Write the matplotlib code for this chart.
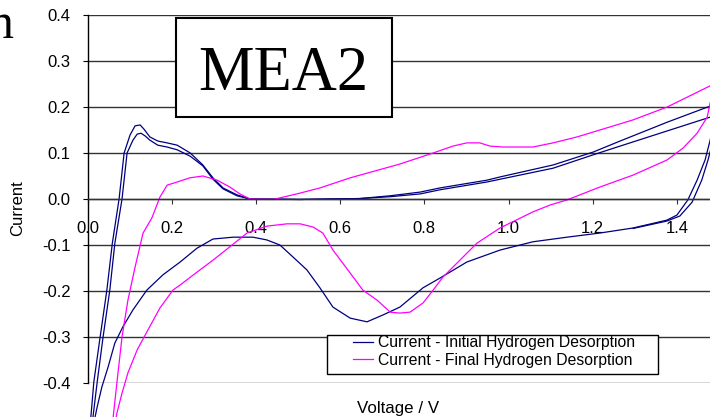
import matplotlib
matplotlib.use("Agg")
import matplotlib.pyplot as plt
from matplotlib.patches import Rectangle

# ---------------- data ----------------
# Initial hydrogen desorption, cycle A (anodic sweep then cathodic sweep)
init_a_anodic_v = [0.001, 0.008, 0.015, 0.030, 0.046, 0.059, 0.075, 0.087, 0.101, 0.113, 0.125,
                   0.134, 0.148, 0.167, 0.189, 0.213, 0.244, 0.274, 0.298, 0.322, 0.355, 0.386,
                   0.505, 0.647, 0.719, 0.790, 0.837, 0.949, 0.980, 1.106, 1.201, 1.265, 1.377,
                   1.479, 1.498]
init_a_anodic_i = [-0.524, -0.474, -0.398, -0.300, -0.198, -0.096, 0.000, 0.100, 0.139, 0.159, 0.161,
                   0.152, 0.135, 0.126, 0.122, 0.117, 0.100, 0.074, 0.046, 0.024, 0.009, 0.000,
                   -0.001, 0.001, 0.007, 0.015, 0.024, 0.041, 0.048, 0.074, 0.102, 0.126, 0.167,
                   0.202, 0.209]
init_a_cathodic_v = [1.498, 1.488, 1.479, 1.467, 1.448, 1.426, 1.400, 1.376, 1.296, 1.217, 1.139,
                     1.058, 0.980, 0.901, 0.837, 0.797, 0.742, 0.702, 0.664, 0.624, 0.583, 0.552,
                     0.521, 0.488, 0.457, 0.426, 0.393, 0.346, 0.298, 0.260, 0.220, 0.179, 0.141,
                     0.108, 0.084, 0.065, 0.049, 0.034, 0.023, 0.018, 0.013]
init_a_cathodic_i = [0.209, 0.167, 0.128, 0.085, 0.041, -0.002, -0.035, -0.046, -0.063, -0.074, -0.083,
                     -0.093, -0.111, -0.137, -0.172, -0.193, -0.235, -0.252, -0.267, -0.259, -0.235, -0.193,
                     -0.154, -0.126, -0.100, -0.089, -0.083, -0.083, -0.087, -0.107, -0.137, -0.165, -0.198,
                     -0.241, -0.278, -0.313, -0.365, -0.409, -0.452, -0.474, -0.524]

# Initial hydrogen desorption, cycle B
init_b_anodic_v = [0.008, 0.013, 0.023, 0.037, 0.053, 0.065, 0.082, 0.094, 0.108, 0.118, 0.127,
                   0.137, 0.148, 0.167, 0.189, 0.213, 0.244, 0.274, 0.298, 0.322, 0.355, 0.386,
                   0.505, 0.647, 0.719, 0.790, 0.837, 0.949, 0.980, 1.106, 1.201, 1.265, 1.377,
                   1.479, 1.498]
init_b_anodic_i = [-0.524, -0.474, -0.398, -0.300, -0.198, -0.096, 0.000, 0.100, 0.128, 0.141, 0.143,
                   0.137, 0.128, 0.117, 0.113, 0.107, 0.093, 0.072, 0.043, 0.022, 0.007, 0.000,
                   -0.001, 0.001, 0.005, 0.011, 0.020, 0.037, 0.043, 0.067, 0.096, 0.115, 0.148,
                   0.178, 0.185]
init_b_cathodic_v = [1.498, 1.493, 1.486, 1.474, 1.459, 1.436, 1.407, 1.376, 1.296]
init_b_cathodic_i = [0.185, 0.157, 0.128, 0.085, 0.041, -0.007, -0.037, -0.048, -0.064]

# Final hydrogen desorption
final_anodic_v = [0.056, 0.061, 0.070, 0.082, 0.096, 0.113, 0.132, 0.153, 0.172, 0.189, 0.213,
                  0.243, 0.274, 0.308, 0.338, 0.362, 0.386, 0.441, 0.497, 0.552, 0.624, 0.742,
                  0.821, 0.868, 0.901, 0.932, 0.956, 0.987, 1.058, 1.106, 1.163, 1.217, 1.296,
                  1.377, 1.479, 1.498]
final_anodic_i = [-0.524, -0.474, -0.398, -0.300, -0.220, -0.148, -0.074, -0.041, 0.004, 0.030, 0.037,
                  0.046, 0.050, 0.041, 0.026, 0.011, 0.000, -0.001, 0.011, 0.024, 0.046, 0.076,
                  0.100, 0.115, 0.122, 0.122, 0.115, 0.113, 0.113, 0.122, 0.135, 0.150, 0.172,
                  0.200, 0.246, 0.252]
final_cathodic_v = [1.498, 1.488, 1.479, 1.472, 1.448, 1.415, 1.377, 1.296, 1.217, 1.139, 1.099,
                    1.058, 0.980, 0.925, 0.878, 0.844, 0.821, 0.797, 0.766, 0.742, 0.719, 0.688,
                    0.654, 0.624, 0.583, 0.559, 0.536, 0.505, 0.474, 0.426, 0.379, 0.338, 0.298,
                    0.260, 0.220, 0.203, 0.172, 0.141, 0.118, 0.096, 0.082, 0.070, 0.068, 0.063]
final_cathodic_i = [0.252, 0.233, 0.209, 0.178, 0.143, 0.111, 0.085, 0.052, 0.026, -0.002, -0.013,
                    -0.028, -0.063, -0.096, -0.139, -0.170, -0.198, -0.226, -0.246, -0.248, -0.246, -0.220,
                    -0.198, -0.161, -0.111, -0.074, -0.061, -0.054, -0.054, -0.059, -0.074, -0.104, -0.133,
                    -0.159, -0.187, -0.198, -0.237, -0.289, -0.328, -0.378, -0.422, -0.465, -0.474, -0.524]

x_ticks = [0.0, 0.2, 0.4, 0.6, 0.8, 1.0, 1.2, 1.4]
x_tick_labels = ["0.0", "0.2", "0.4", "0.6", "0.8", "1.0", "1.2", "1.4"]
y_ticks = [-0.4, -0.3, -0.2, -0.1, 0.0, 0.1, 0.2, 0.3, 0.4]
y_tick_labels = ["-0.4", "-0.3", "-0.2", "-0.1", "0.0", "0.1", "0.2", "0.3", "0.4"]

label_initial = "Current - Initial Hydrogen Desorption"
label_final = "Current - Final Hydrogen Desorption"
title_text = "MEA2"

# ---------------- figure ----------------
W, H = 710, 417
fig = plt.figure(figsize=(W / 100, H / 100), dpi=100)
sans = "Liberation Sans"
serif = "Liberation Serif"

x0_px, px_per_v = 87.5, 421.0
top_px, bot_px = 15, 383
ax = fig.add_axes([x0_px / W, (H - bot_px) / H, (W - x0_px) / W, (bot_px - top_px) / H])
ax.set_xlim(0, (W - x0_px) / px_per_v)
ax.set_ylim(-0.4, 0.4)

blue = "#000080"
pink = "#FF00FF"
lw = 0.9

ax.plot(init_a_anodic_v + init_a_cathodic_v, init_a_anodic_i + init_a_cathodic_i,
        color=blue, lw=lw, clip_on=False, label=label_initial, zorder=2)
ax.plot(init_b_anodic_v + init_b_cathodic_v, init_b_anodic_i + init_b_cathodic_i,
        color=blue, lw=lw, clip_on=False, label="_nolegend_", zorder=2)
ax.plot(final_anodic_v + final_cathodic_v, final_anodic_i + final_cathodic_i,
        color=pink, lw=lw, clip_on=False, label=label_final, zorder=2)

# axes styling
grid_col = "#333333"
for s in ["right", "top"]:
    ax.spines[s].set_visible(False)
ax.spines["left"].set_color("black")
ax.spines["left"].set_linewidth(1.0)
ax.spines["bottom"].set_position(("data", 0))
ax.spines["bottom"].set_color(grid_col)
ax.spines["bottom"].set_linewidth(1.0)

ax.set_yticks(y_ticks)
ax.set_yticklabels(y_tick_labels, fontfamily=sans, fontsize=12)
ax.set_xticks(x_ticks)
ax.set_xticklabels(x_tick_labels, fontfamily=sans, fontsize=12)
ax.tick_params(axis="y", direction="out", length=3.8, width=0.8, pad=8.5, colors="black")
ax.tick_params(axis="x", direction="out", length=3.8, width=0.8, pad=12, colors="black")
ax.tick_params(axis="x", color=grid_col)
ax.yaxis.grid(True, color=grid_col, lw=1.0)
ax.xaxis.grid(False)
ax.set_axisbelow(True)

# axis titles
fig.text(398.5 / W, 1 - 413 / H, "Voltage / V", ha="center", va="baseline",
         fontfamily=sans, fontsize=12.2)
fig.text(18 / W, 1 - 208 / H, "Current", ha="center", va="center", rotation=90,
         fontfamily=sans, fontsize=12)

# MEA2 box
box = Rectangle((176 / W, 1 - 117 / H), (392 - 176) / W, (117 - 18) / H,
                transform=fig.transFigure, facecolor="white", edgecolor="black",
                lw=1.5, zorder=4, clip_on=False)
ax.add_patch(box)
ax.text(283 / W, 1 - 90 / H, title_text, transform=fig.transFigure, ha="center",
        va="baseline", fontfamily=serif, fontsize=45, zorder=5)

# cropped title letter at far left
fig.text(14 / W, 1 - 38 / H, "n", ha="right", va="baseline", fontfamily=serif, fontsize=36)

# legend box + legend
lbox = Rectangle((327 / W, 1 - 374 / H), (658 - 327) / W, (374 - 335) / H,
                 transform=fig.transFigure, facecolor="white", edgecolor="black",
                 lw=1.0, zorder=4, clip_on=False)
ax.add_patch(lbox)
leg = ax.legend(loc="upper left", bbox_to_anchor=(353 / W, 1 - 335.5 / H),
                bbox_transform=fig.transFigure, frameon=False, borderpad=0,
                borderaxespad=0, handlelength=1.27, handletextpad=0.32,
                labelspacing=0.14, prop={"family": sans, "size": 11.3})
leg.set_zorder(5)

fig.savefig("out.png", dpi=100)
